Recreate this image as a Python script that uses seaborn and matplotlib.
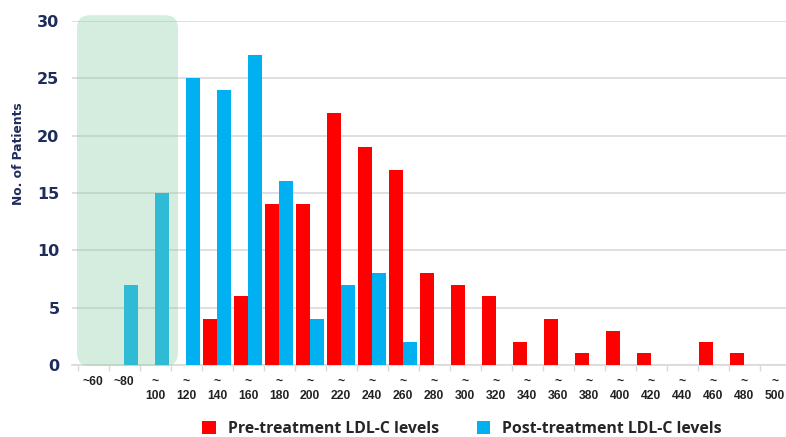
import matplotlib
matplotlib.use("Agg")
import matplotlib.pyplot as plt
from matplotlib.patches import FancyBboxPatch, Patch
from matplotlib.ticker import FixedLocator
import pandas as pd
import seaborn as sns

# LDL-C bins (upper bound, mg/dL) and patient counts per bin
bins = ["~60", "~80", "~100", "~120", "~140", "~160", "~180", "~200", "~220",
        "~240", "~260", "~280", "~300", "~320", "~340", "~360", "~380", "~400",
        "~420", "~440", "~460", "~480", "~500"]
pre_counts = [0, 0, 0, 0, 4, 6, 14, 14, 22, 19, 17, 8, 7, 6, 2, 4, 1, 3, 1, 0, 2, 1, 0]
post_counts = [0, 7, 15, 25, 24, 27, 16, 4, 7, 8, 2, 0, 0, 0, 0, 0, 0, 0, 0, 0, 0, 0, 0]
tick_labels = ["~60", "~80"] + ["~\n" + b[1:] for b in bins[2:]]

pre_name = "Pre-treatment LDL-C levels"
post_name = "Post-treatment LDL-C levels"

df = pd.DataFrame({
    "bin": bins * 2,
    "count": pre_counts + post_counts,
    "group": [pre_name] * len(bins) + [post_name] * len(bins),
})

RED = "#ff0000"
BLUE = "#00b0f0"
NAVY = "#1f2d5c"

sns.set_theme(style="white")
plt.rcParams["font.family"] = ["Liberation Sans", "DejaVu Sans"]

fig = plt.figure(figsize=(7.86, 4.37), dpi=100)
ax = fig.add_axes([0.0916, 0.165, 0.9084, 0.787])

sns.barplot(data=df, x="bin", y="count", hue="group", order=bins,
            hue_order=[pre_name, post_name], palette=[RED, BLUE],
            width=0.9, gap=0, saturation=1, linewidth=0, ax=ax, legend=False,
            zorder=3)

ax.set_xlim(-0.68, 22.35)
ax.set_ylim(0, 30)
ax.set_yticks(range(0, 31, 5))
ax.yaxis.grid(True, color="#d9d9d9", linewidth=1.2, zorder=0)
ax.set_axisbelow(True)
for s in ["left", "right", "top"]:
    ax.spines[s].set_visible(False)
ax.spines["bottom"].set_color("#d9d9d9")
ax.spines["bottom"].set_linewidth(1.2)

ax.set_xticks(range(len(bins)))
ax.set_xticklabels(tick_labels, fontsize=8.7, fontweight="bold", color="#222222",
                   linespacing=1.25)
ax.xaxis.set_minor_locator(FixedLocator([i + 0.5 for i in range(-1, len(bins))]))
ax.tick_params(axis="x", which="major", length=0, pad=8)
ax.tick_params(axis="x", which="minor", bottom=True, length=4, color="#d9d9d9", width=1)
ax.tick_params(axis="y", length=0, pad=9)
for lab in ax.get_yticklabels():
    lab.set_fontsize(11.5)
    lab.set_fontweight("bold")
    lab.set_color(NAVY)
    lab.set_family("DejaVu Sans")

ax.set_xlabel("")
ax.set_ylabel("No. of Patients", fontsize=8.8, fontweight="bold", color=NAVY,
              family="DejaVu Sans")
ax.yaxis.set_label_coords(-0.066, 0.613)

# Shaded target range over the lowest bins
shade = FancyBboxPatch((-0.52, -0.1), 3.26, 30.6,
                       boxstyle="round,pad=0,rounding_size=0.42",
                       mutation_aspect=2.72, transform=ax.transData,
                       facecolor=(135 / 255, 206 / 255, 164 / 255), alpha=0.35,
                       edgecolor="none", zorder=5, clip_on=False)
ax.add_patch(shade)

handles = [Patch(facecolor=RED, edgecolor="none"), Patch(facecolor=BLUE, edgecolor="none")]
fig.legend(handles, [pre_name, post_name], loc="center", bbox_to_anchor=(0.588, 0.018),
           ncol=2, frameon=False, handlelength=0.85, handleheight=0.85,
           handletextpad=0.75, columnspacing=2.4, borderpad=0,
           prop={"family": "Open Sans", "weight": "bold", "size": 11.4})

fig.savefig("out.png", dpi=100)
